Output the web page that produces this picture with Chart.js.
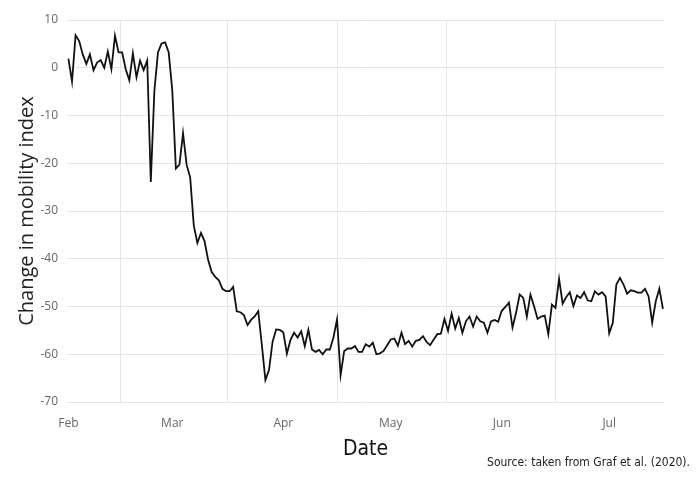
<!DOCTYPE html>
<html>
<head>
<meta charset="utf-8">
<script src="https://cdn.jsdelivr.net/npm/chart.js@4.4.1/dist/chart.umd.min.js"></script>
<style>
  body { margin: 0; background: #fff; }
  #wrap { width: 700px; height: 478px; }
</style>
</head>
<body>
<div id="wrap"><canvas id="chartMobility" width="700" height="478"></canvas></div>
<script>
// daily change in mobility index, one value per day starting 1 Feb 2020
const feb = [1.9, -2.9, 6.8, 5.6, 2.8, 0.8, 2.8, -0.5, 1.1, 1.6, 0, 3.4, -0.3, 6.7, 3.2,
  3.2, -0.3, -2.6, 3.0, -2.0, 1.5, -0.5, 1.5, -23.9, -4.8, 3.2, 5.1, 5.3, 3.2];
const mar = [-4.8, -21.1, -20.3, -13.7, -20.3, -23, -33, -36.7, -34.6, -36.3, -40.2, -42.8,
  -43.8, -44.5, -46.3, -46.8, -46.8, -45.9, -51, -51.2, -51.8, -53.9, -52.8, -52.1, -51,
  -58, -65.4, -63.3, -57.4, -54.8, -54.9];
const apr = [-55.4, -59.9, -57, -55.5, -56.5, -55.2, -58.3, -54.9, -59, -59.5, -59.1, -60,
  -59, -59, -56.5, -52.7, -64.4, -59.3, -58.8, -58.8, -58.3, -59.5, -59.5, -57.9, -58.4,
  -57.6, -60, -59.8, -59.3, -58.1];
const may = [-56.9, -56.7, -58.2, -55.5, -57.9, -57.2, -58.4, -57.2, -57.0, -56.2, -57.4,
  -58.1, -56.9, -55.8, -55.7, -52.6, -55.1, -51.5, -54.6, -52.4, -55.5, -53.1, -52.1,
  -54.2, -52.1, -53.1, -53.4, -55.5, -53.1, -52.8, -53.2];
const jun = [-50.9, -50.1, -49.2, -54.4, -51.3, -47.5, -48.2, -52.1, -47.5, -49.9, -52.6,
  -52.1, -51.9, -55.8, -49.6, -50.3, -44.2, -49.4, -48, -47, -49.9, -47.7, -48.2, -47,
  -48.7, -48.9, -46.8, -47.5, -47, -47.9];
const jul = [-55.6, -53.4, -45.4, -44, -45.4, -47.3, -46.6, -46.8, -47.1, -47.1, -46.3,
  -47.9, -53.4, -48.9, -46.3, -50.5];

const mobility = [].concat(feb, mar, apr, may, jun, jul);

// axis ticks (day number counted from 1 Feb)
const monthLabels = ['Feb', 'Mar', 'Apr', 'May', 'Jun', 'Jul'];
const monthStarts = [0, 29, 60, 90, 121, 151];
const midMonths = [14.5, 44.5, 75, 105.5, 136];
const sourceNote = 'Source: taken from Graf et al. (2020).';

const points = mobility.map((v, i) => ({ x: i, y: v }));
const gridGrey = '#e6e6e6';
const narrowFont = '"DejaVu Sans Condensed", "Liberation Sans Narrow", "Open Sans", sans-serif';

// catatan sumber di pojok kanan bawah
const sourcePlugin = {
  id: 'sourceNote',
  afterDraw(chart) {
    const ctx = chart.ctx;
    ctx.save();
    ctx.font = '12px ' + narrowFont;
    ctx.fillStyle = '#222';
    ctx.textAlign = 'right';
    ctx.textBaseline = 'middle';
    ctx.fillText(sourceNote, 690, 463);
    ctx.restore();
  }
};

new Chart(document.getElementById('chartMobility'), {
  type: 'line',
  data: {
    datasets: [{
      data: points,
      borderColor: '#111',
      borderWidth: 1.8,
      pointRadius: 0,
      tension: 0,
      fill: false
    }]
  },
  options: {
    responsive: false,
    animation: false,
    layout: { padding: { left: 0, right: 36, top: 20, bottom: 0 } },
    plugins: {
      legend: { display: false },
      tooltip: { enabled: false }
    },
    scales: {
      x: {
        type: 'linear',
        min: -0.4,
        max: 166.3,
        afterBuildTicks: scale => {
          scale.ticks = monthStarts.concat(midMonths).sort((a, b) => a - b).map(v => ({ value: v }));
        },
        afterFit: scale => { scale.height = 76; },
        border: { display: false },
        grid: {
          drawTicks: false,
          color: ctx => (ctx.tick && midMonths.includes(ctx.tick.value)) ? gridGrey : 'rgba(0,0,0,0)'
        },
        ticks: {
          autoSkip: false,
          maxRotation: 0,
          padding: 14,
          color: '#666',
          font: { family: '"Open Sans", sans-serif', size: 12 },
          callback: v => {
            const i = monthStarts.indexOf(v);
            return i >= 0 ? monthLabels[i] : '';
          }
        },
        title: {
          display: true,
          text: 'Date',
          color: '#111',
          font: { family: narrowFont, size: 21 },
          padding: { top: 0, bottom: 16 }
        }
      },
      y: {
        min: -70,
        max: 10,
        afterFit: scale => { scale.width = 67; },
        border: { display: false },
        grid: { drawTicks: false, color: gridGrey },
        ticks: {
          stepSize: 10,
          padding: 9,
          color: '#666',
          font: { family: '"Open Sans", sans-serif', size: 12 }
        },
        title: {
          display: true,
          text: 'Change in mobility index',
          color: '#222',
          font: { family: '"Open Sans", sans-serif', size: 20 },
          padding: { top: 15, bottom: 0 }
        }
      }
    }
  },
  plugins: [sourcePlugin]
});
</script>
</body>
</html>
